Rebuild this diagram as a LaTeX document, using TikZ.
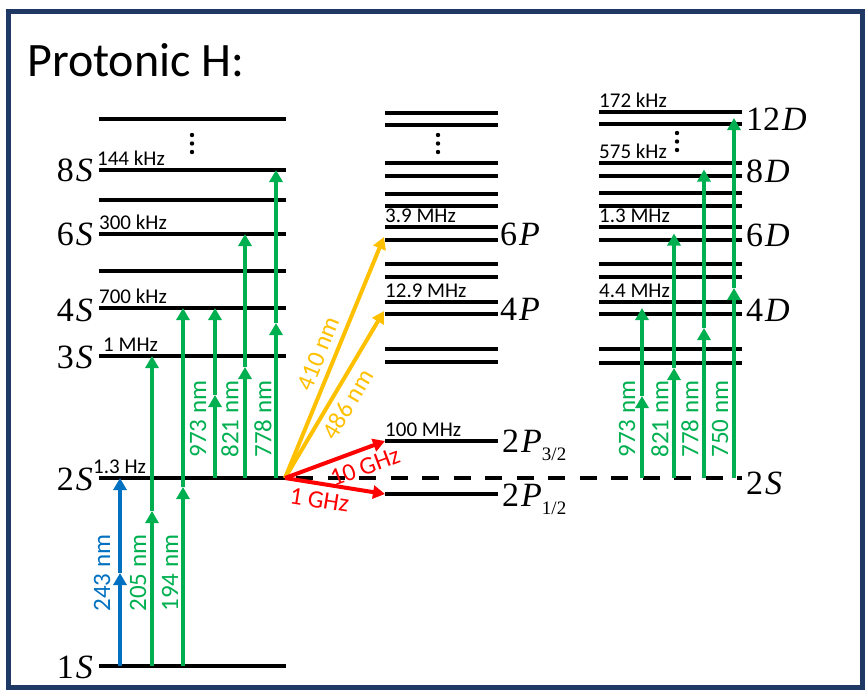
\documentclass[tikz,border=0pt]{standalone}
\usepackage{fontspec}
\setmainfont{Carlito}
\newfontfamily\lvlfont{Liberation Serif}
\usetikzlibrary{arrows.meta}
\definecolor{lgreen}{HTML}{00B050}
\definecolor{lblue}{HTML}{0070C0}
\definecolor{lorange}{HTML}{FFC000}
\definecolor{lred}{HTML}{FF0000}
\definecolor{frameblue}{HTML}{1F3864}
\newcommand{\lv}[2]{{\lvlfont #1\kern2pt{\itshape #2}}}
\tikzset{
  lvline/.style={line width=4.5pt},
  tr/.style={line width=3.5pt, -{Triangle[width=13pt,length=12pt]}},
  freq/.style={font=\fontsize{21}{24}\selectfont, anchor=base west, inner sep=0pt},
  wl/.style={font=\fontsize{25}{28}\selectfont, rotate=90, inner sep=0pt},
  slab/.style={font=\fontsize{25}{28}\selectfont, inner sep=2pt},
  lvl/.style={font=\fontsize{34}{38}\selectfont, inner sep=0pt},
}
\begin{document}
\begin{tikzpicture}[x=1pt,y=-1pt]
  \useasboundingbox (0,0) rectangle (866,691);
  % frame and title
  \draw[frameblue, line width=5pt] (8,11.5) rectangle (862.5,687.5);
  \node[anchor=base west, inner sep=0pt, font=\fontsize{48}{52}\selectfont] (title) at (27,76) {Protonic H:};

  % S levels
  \foreach \y in {119,170,200,234,271,308,356,478,666}
    \draw[lvline] (99,\y) -- (286,\y);
  % P levels
  \foreach \y in {113,125,163,176,194,206,227,240,264,277,302,314,349,362,441,494}
    \draw[lvline] (385,\y) -- (498,\y);
  % D levels
  \foreach \y in {112,124,163,176,193,206,227,240,264,277,302,314,349,363}
    \draw[lvline] (599,\y) -- (742,\y);
  % 2S carried over to the right
  \draw[lvline, dash pattern=on 17pt off 14.5pt, dash phase=21.5pt] (286,478) -- (742,478);

  % vertical dots
  \foreach \x/\y in {192/135,438/135,677/133}
    \foreach \d in {0,8.5,17}
      \fill (\x,\y+\d) circle (2.2pt);

  % level names
  \node[lvl, anchor=base east] (n8s) at (93,181.5) {\lv{8}{S}};
  \node[lvl, anchor=base east] (n6s) at (93,245) {\lv{6}{S}};
  \node[lvl, anchor=base east] (n4s) at (93,321) {\lv{4}{S}};
  \node[lvl, anchor=base east] (n3s) at (93,368) {\lv{3}{S}};
  \node[lvl, anchor=base east] (n2s) at (93,490) {\lv{2}{S}};
  \node[lvl, anchor=base east] (n1s) at (93,678) {\lv{1}{S}};
  \node[lvl, anchor=base west] (n6p) at (500,245) {\lv{6}{P}};
  \node[lvl, anchor=base west] (n4p) at (500,320) {\lv{4}{P}};
  \node[lvl, anchor=base west] (n2p3) at (502,452) {\lv{2}{P}\raisebox{-0.25em}{\lvlfont\fontsize{19}{19}\selectfont 3/2}};
  \node[lvl, anchor=base west] (n2p1) at (502,506) {\lv{2}{P}\raisebox{-0.25em}{\lvlfont\fontsize{19}{19}\selectfont 1/2}};
  \node[lvl, anchor=base west] (n12d) at (746,130) {\lv{12}{D}};
  \node[lvl, anchor=base west] (n8d) at (746,182) {\lv{8}{D}};
  \node[lvl, anchor=base west] (n6d) at (746,246) {\lv{6}{D}};
  \node[lvl, anchor=base west] (n4d) at (746,321) {\lv{4}{D}};
  \node[lvl, anchor=base west] (n2sr) at (746,494) {\lv{2}{S}};

  % widths
  \node[freq] (f8s) at (97,165.5) {144 kHz};
  \node[freq] (f6s) at (99,229.5) {300 kHz};
  \node[freq] (f4s) at (99,303.5) {700 kHz};
  \node[freq] (f3s) at (103,351.5) {1 MHz};
  \node[freq] (f2s) at (93,473.5) {1.3 Hz};
  \node[freq] (f6p) at (385,222.5) {3.9 MHz};
  \node[freq] (f4p) at (385,297.5) {12.9 MHz};
  \node[freq] (f2p) at (385,436.5) {100 MHz};
  \node[freq] (f12d) at (599,107.5) {172 kHz};
  \node[freq] (f8d) at (599,158.5) {575 kHz};
  \node[freq] (f6d) at (599,222.5) {1.3 MHz};
  \node[freq] (f4d) at (599,297.5) {4.4 MHz};

  % two-photon transitions
  \draw[tr, lblue] (120,666) -- (120,573);
  \draw[tr, lblue] (120,573) -- (120,478);
  \foreach \x/\ya/\ym/\yb in {152/666/511/356, 183/666/487/308, 215/478/395/308,
      245/478/367/234, 276/478/323/170, 642/478/396/308, 674/478/368/233.5,
      704/478/328/169.5, 734/478/288/118}
  {
    \draw[tr, lgreen] (\x,\ya) -- (\x,\ym);
    \draw[tr, lgreen] (\x,\ym) -- (\x,\yb);
  }
  \node[wl, lblue] (w243) at (102,573) {243 nm};
  \node[wl, lgreen] (w205) at (138,573) {205 nm};
  \node[wl, lgreen] (w194) at (170,573) {194 nm};
  \node[wl, lgreen] (w973) at (198,419) {973 nm};
  \node[wl, lgreen] (w821) at (230,419) {821 nm};
  \node[wl, lgreen] (w778) at (263,419) {778 nm};
  \node[wl, lgreen] (v973) at (627,419) {973 nm};
  \node[wl, lgreen] (v821) at (660,419) {821 nm};
  \node[wl, lgreen] (v778) at (690,419) {778 nm};
  \node[wl, lgreen] (v750) at (720,419) {750 nm};

  % one-photon and microwave transitions from 2S
  \coordinate (o) at (285,478);
  \coordinate (p6) at (384,237);
  \coordinate (p4) at (384,311);
  \coordinate (p3) at (385,441);
  \coordinate (p1) at (385,494);
  \draw[tr, lorange, line width=4pt] (o) -- (p6) node[slab, sloped, above=4pt, pos=0.49] (w410) {410 nm};
  \draw[tr, lorange, line width=4pt] (o) -- (p4) node[slab, sloped, below=3.5pt, pos=0.49] (w486) {486 nm};
  \draw[tr, lred, line width=4pt] (o) -- (p3) node[slab, sloped, below=5pt, pos=0.74] (g10) {10 GHz};
  \draw[tr, lred, line width=4pt] (o) -- (p1) node[slab, sloped, below=4pt, pos=0.37] (g1) {1 GHz};
\end{tikzpicture}
\end{document}
